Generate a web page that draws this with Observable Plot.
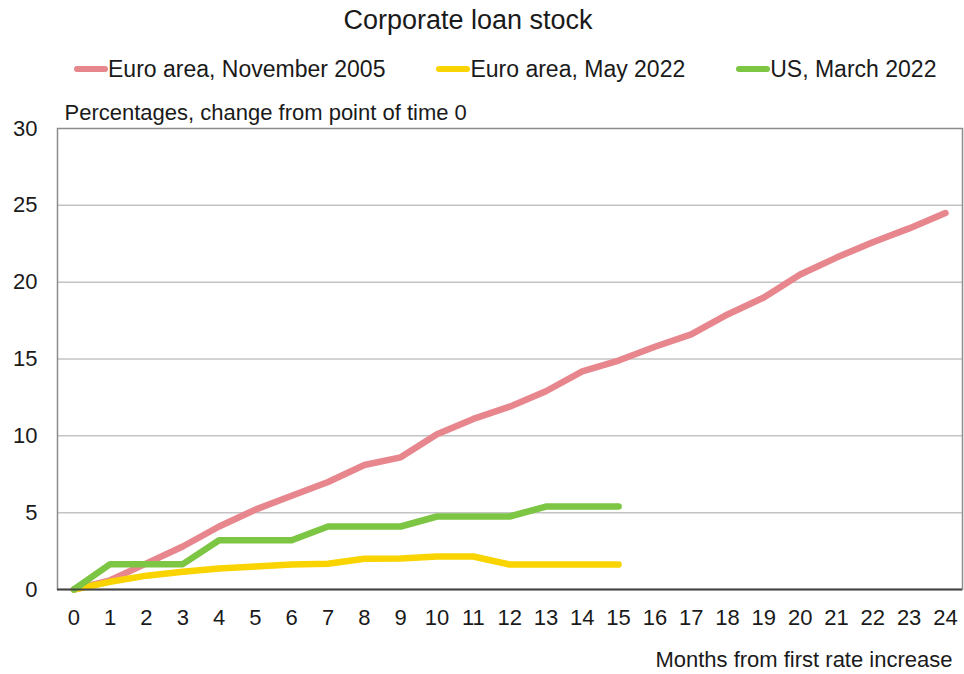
<!DOCTYPE html>
<html>
<head>
<meta charset="utf-8">
<script src="https://cdn.jsdelivr.net/npm/d3@7"></script>
<script src="https://cdn.jsdelivr.net/npm/@observablehq/plot@0.6"></script>
<style>
  body { margin: 0; background: #fff; font-family: "Liberation Sans", Arial, sans-serif; color: #1a1a1a; }
  #wrap { position: relative; width: 964px; height: 674px; overflow: hidden; }
  #title { position: absolute; left: 0; width: 936px; top: 4px; text-align: center; font-size: 27px; line-height: 32px; }
  #legend { position: absolute; left: 74px; top: 55px; display: flex; gap: 51px; font-size: 23px; line-height: 28px; }
  .item { display: flex; align-items: center; }
  .sw { width: 34px; height: 6px; border-radius: 3px; }
  #chart { position: absolute; left: 0; top: 90px; }
</style>
</head>
<body>
<div id="wrap">
  <div id="title"></div>
  <div id="legend"></div>
  <div id="chart"></div>
</div>
<script>
const titleText = "Corporate loan stock";
const yLabel = "Percentages, change from point of time 0";
const xLabel = "Months from first rate increase";
const seriesNames = ["Euro area, November 2005", "Euro area, May 2022", "US, March 2022"];
const seriesColors = ["#e8868e", "#fad400", "#7cc643"];
const months = [0,1,2,3,4,5,6,7,8,9,10,11,12,13,14,15,16,17,18,19,20,21,22,23,24];
const euro2005 = [0,0.6,1.7,2.8,4.1,5.2,6.1,7.0,8.1,8.6,10.1,11.1,11.9,12.9,14.2,14.9,15.8,16.6,17.9,19.0,20.5,21.6,22.6,23.5,24.5];
const euro2022 = [0,0.5,0.9,1.15,1.37,1.5,1.63,1.67,2.0,2.02,2.15,2.15,1.63,1.63,1.63,1.63];
const us2022 = [0,1.65,1.65,1.65,3.2,3.2,3.2,4.1,4.1,4.1,4.75,4.75,4.75,5.4,5.4,5.4];
const yTicks = [0,5,10,15,20,25,30];
const xTicks = months;

document.getElementById("title").textContent = titleText;
const leg = document.getElementById("legend");
seriesNames.forEach((n, i) => {
  const it = document.createElement("div"); it.className = "item";
  const sw = document.createElement("div"); sw.className = "sw"; sw.style.background = seriesColors[i];
  const tx = document.createElement("span"); tx.textContent = n;
  it.appendChild(sw); it.appendChild(tx); leg.appendChild(it);
});

const data = [];
[euro2005, euro2022, us2022].forEach((arr, s) => arr.forEach((v, i) => data.push({series: seriesNames[s], month: months[i], value: v})));

const chart = Plot.plot({
  width: 964,
  height: 584,
  marginTop: 38,
  marginBottom: 85,
  marginLeft: 57,
  marginRight: 2,
  style: {fontFamily: "Liberation Sans, Arial, sans-serif", fontSize: "22px", color: "#1a1a1a", background: "#fff"},
  x: {domain: [-0.45, 24.47], ticks: xTicks},
  y: {domain: [0, 30], ticks: yTicks},
  color: {domain: seriesNames, range: seriesColors},
  marks: [
    Plot.gridY(yTicks.filter(d => d > 0 && d < 30), {stroke: "#c4c4c4", strokeOpacity: 1, strokeWidth: 1.5}),
    Plot.frame({stroke: "#8c8c8c", strokeWidth: 1.5}),
    Plot.line(data, {x: "month", y: "value", z: "series", stroke: "series", strokeWidth: 6.5, curve: "linear", strokeLinejoin: "round", strokeLinecap: "round"}),
    Plot.ruleY([0], {stroke: "#444", strokeWidth: 2}),
    Plot.axisY(yTicks, {tickSize: 0, tickPadding: 20, label: null, fontSize: 22}),
    Plot.axisX(xTicks, {tickSize: 0, tickPadding: 20, label: null, fontSize: 22}),
    Plot.text([yLabel], {frameAnchor: "top-left", dx: 7, dy: -24, textAnchor: "start", fontSize: 22, text: d => d}),
    Plot.text([xLabel], {frameAnchor: "bottom-right", dx: -10, dy: 77, textAnchor: "end", fontSize: 22, text: d => d})
  ]
});
document.getElementById("chart").appendChild(chart);
</script>
</body>
</html>
